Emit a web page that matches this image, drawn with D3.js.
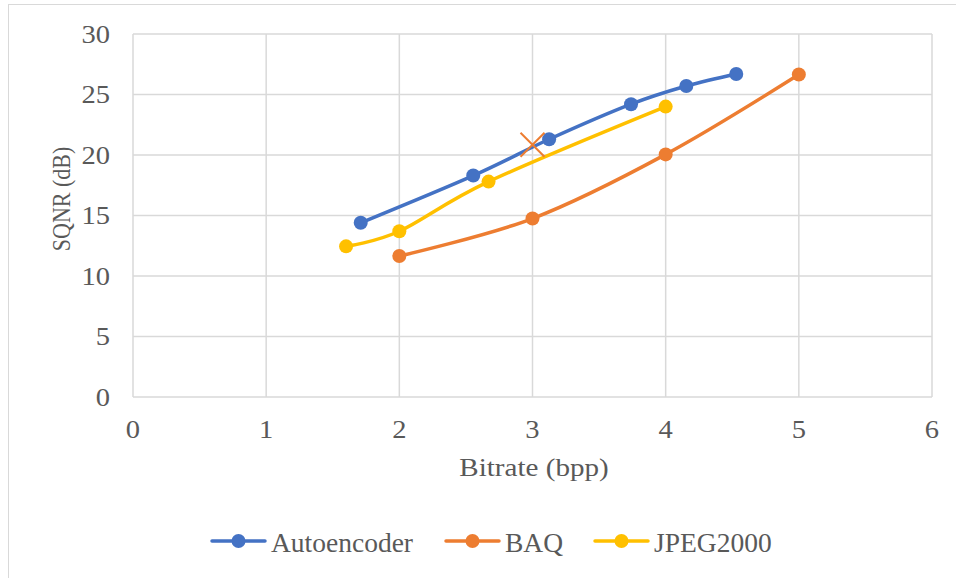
<!DOCTYPE html>
<html>
<head>
<meta charset="utf-8">
<script src="https://cdnjs.cloudflare.com/ajax/libs/d3/7.8.5/d3.min.js"></script>
<style>
  body { margin: 0; background: #fff; }
  text { font-family: "Liberation Serif", "Times New Roman", serif; fill: #595959; }
</style>
</head>
<body>
<script>
// datos
const autoencoderX = [1.71, 2.555, 3.125, 3.74, 4.155, 4.53];
const autoencoderY = [14.4, 18.3, 21.3, 24.2, 25.7, 26.7];
const baqX = [2.0, 3.0, 4.0, 5.0];
const baqY = [11.65, 14.75, 20.05, 26.65];
const jpegX = [1.6, 2.0, 2.67, 4.0];
const jpegY = [12.45, 13.7, 17.8, 24.0];
const extraX = [3.0];
const extraY = [20.85];
const xTicks = [0, 1, 2, 3, 4, 5, 6];
const yTicks = [0, 5, 10, 15, 20, 25, 30];
const seriesNames = ["Autoencoder", "BAQ", "JPEG2000"];
const colors = ["#4472C4", "#ED7D31", "#FFC000"];

const width = 956, height = 578;
const plotLeft = 133, plotRight = 932, plotTop = 34, plotBottom = 397;

const svg = d3.select("body").append("svg")
  .attr("width", width)
  .attr("height", height);

// borde del grafico
svg.append("rect")
  .attr("x", 8.5).attr("y", 4.5)
  .attr("width", 1000).attr("height", 1000)
  .attr("fill", "none")
  .attr("stroke", "#D9D9D9")
  .attr("stroke-width", 1);

const x = d3.scaleLinear().domain([0, 6]).range([plotLeft, plotRight]);
const y = d3.scaleLinear().domain([0, 30]).range([plotBottom, plotTop]);

// texto estirado en horizontal
function label(px, py, txt, size, sx, anchor) {
  return svg.append("text")
    .attr("transform", `translate(${px},${py}) scale(${sx},1)`)
    .attr("text-anchor", anchor)
    .style("font-size", size + "px")
    .text(txt);
}

// rejilla
svg.append("g").selectAll("line").data(xTicks).enter().append("line")
  .attr("x1", d => x(d)).attr("x2", d => x(d))
  .attr("y1", plotTop).attr("y2", plotBottom)
  .attr("stroke", "#D9D9D9").attr("stroke-width", 1.5);
svg.append("g").selectAll("line").data(yTicks).enter().append("line")
  .attr("x1", plotLeft).attr("x2", plotRight)
  .attr("y1", d => y(d)).attr("y2", d => y(d))
  .attr("stroke", "#D9D9D9").attr("stroke-width", 1.5);

// etiquetas de los ejes
yTicks.forEach(d => label(110, y(d) + 8.5, d, 25.5, 1.12, "end"));
xTicks.forEach(d => label(x(d), 438, d, 25.5, 1.12, "middle"));
label(534, 476, "Bitrate (bpp)", 26, 1.12, "middle");
svg.append("text")
  .attr("transform", "translate(70,199) rotate(-90) scale(1,1.15)")
  .attr("text-anchor", "middle")
  .style("font-size", "22px")
  .text("SQNR (dB)");

// series
const series = [
  d3.zip(autoencoderX, autoencoderY),
  d3.zip(baqX, baqY),
  d3.zip(jpegX, jpegY)
];
const line = d3.line()
  .x(d => x(d[0]))
  .y(d => y(d[1]))
  .curve(d3.curveCatmullRom.alpha(0));

series.forEach((s, i) => {
  svg.append("path")
    .datum(s)
    .attr("d", line)
    .attr("fill", "none")
    .attr("stroke", colors[i])
    .attr("stroke-width", 3.5)
    .attr("stroke-linecap", "round");
  svg.append("g").selectAll("circle").data(s).enter().append("circle")
    .attr("cx", d => x(d[0]))
    .attr("cy", d => y(d[1]))
    .attr("r", 7)
    .attr("fill", colors[i]);
});

// punto suelto con marcador x
const extra = svg.append("g");
d3.zip(extraX, extraY).forEach(d => {
  const cx = x(d[0]), cy = y(d[1]), a = 12;
  extra.append("path")
    .attr("d", `M${cx - a},${cy - a}L${cx + a},${cy + a}M${cx + a},${cy - a}L${cx - a},${cy + a}`)
    .attr("stroke", colors[1])
    .attr("stroke-width", 2)
    .attr("fill", "none");
});

// leyenda
const legendX = [212, 446, 595];
const legend = svg.append("g").selectAll("g").data(seriesNames).enter().append("g")
  .attr("transform", (d, i) => `translate(${legendX[i]},541)`);
legend.append("line")
  .attr("x1", 0).attr("x2", 53)
  .attr("stroke", (d, i) => colors[i])
  .attr("stroke-width", 3.5)
  .attr("stroke-linecap", "round");
legend.append("circle")
  .attr("cx", 26.5).attr("r", 7)
  .attr("fill", (d, i) => colors[i]);
legend.append("text")
  .attr("x", 59).attr("y", 10.5)
  .style("font-size", "27.5px")
  .text(d => d);
</script>
</body>
</html>
